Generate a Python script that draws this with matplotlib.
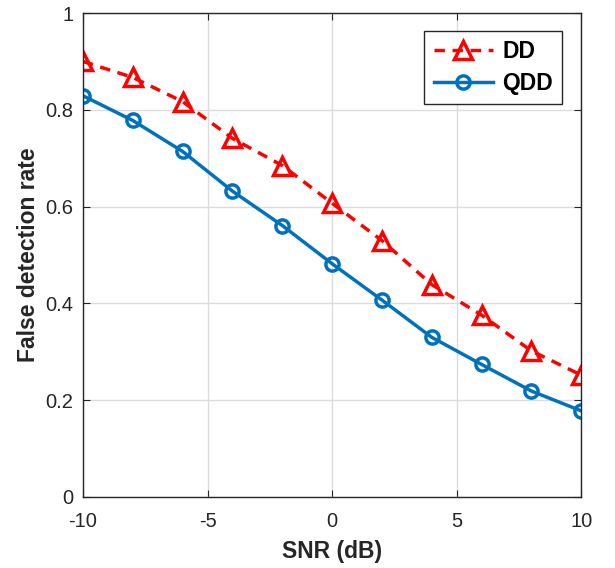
import matplotlib
matplotlib.use("Agg")
import matplotlib.pyplot as plt

snr = [-10, -8, -6, -4, -2, 0, 2, 4, 6, 8, 10]
dd = [0.900, 0.867, 0.817, 0.741, 0.685, 0.607, 0.530, 0.439, 0.376, 0.302, 0.252]
qdd = [0.829, 0.778, 0.714, 0.632, 0.561, 0.482, 0.407, 0.330, 0.274, 0.219, 0.178]

plt.rcParams['font.family'] = ['Liberation Sans', 'DejaVu Sans']
plt.rcParams['axes.unicode_minus'] = False

fig = plt.figure(figsize=(6.15, 5.68), dpi=100)
ax = fig.add_axes([0.135, 0.125, 0.81, 0.852])

ax.plot(snr, dd, color='#ff0000', linestyle=(0, (3, 2.2)), linewidth=2.5,
        marker='^', markersize=12.5, markerfacecolor='none', markeredgewidth=2.5,
        label='DD')
ax.plot(snr, qdd, color='#0072bd', linestyle='-', linewidth=2.5,
        marker='o', markersize=9.5, markerfacecolor='none', markeredgewidth=2.5,
        label='QDD')

ax.set_xlim(-10, 10)
ax.set_ylim(0, 1)
ax.set_xticks([-10, -5, 0, 5, 10])
ax.set_yticks([0, 0.2, 0.4, 0.6, 0.8, 1])
ax.set_yticklabels(['0', '0.2', '0.4', '0.6', '0.8', '1'])
ax.grid(True, color='#dcdcdc', linewidth=1)
ax.set_axisbelow(True)
ax.tick_params(direction='in', labelsize=14.5, colors='#262626', length=5, top=True, right=True)
ax.tick_params(axis='x', pad=11)
ax.tick_params(axis='y', pad=7)
for s in ax.spines.values():
    s.set_color('#262626')
    s.set_linewidth(1)

ax.set_xlabel('SNR (dB)', fontsize=16.5, fontweight='bold', color='#262626', labelpad=6)
ax.set_ylabel('False detection rate', fontsize=16.5, fontweight='bold', color='#262626', labelpad=4)

leg = ax.legend(loc='upper right', bbox_to_anchor=(0.985, 0.987),
                prop={'weight': 'bold', 'size': 16.5}, fancybox=False, framealpha=1,
                edgecolor='#262626', handlelength=2.6, handletextpad=0.4,
                borderpad=0.4, labelspacing=0.4)
leg.get_frame().set_linewidth(1)

fig.savefig('out.png', dpi=100)
